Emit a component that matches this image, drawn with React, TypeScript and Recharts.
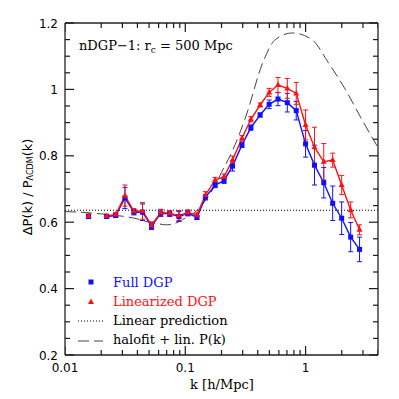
import { ComposedChart, Line, XAxis, YAxis, ErrorBar, ReferenceLine } from "recharts";

// k bins [h/Mpc]; the 0.0187 bin is empty in the simulation output
const K_BINS = [
  0.0157, 0.0187, 0.0222, 0.0264, 0.0315, 0.0374, 0.0441, 0.0524, 0.0625, 0.0742,
  0.0885, 0.105, 0.125, 0.147, 0.177, 0.21, 0.247, 0.296, 0.351, 0.419,
  0.498, 0.59, 0.705, 0.836, 1.0, 1.186, 1.416, 1.68, 1.995, 2.37, 2.81,
];
const FULL_DGP = [
  0.617, null, 0.617, 0.62, 0.673, 0.63, 0.63, 0.588, 0.627, 0.625,
  0.617, 0.627, 0.614, 0.675, 0.712, 0.725, 0.769, 0.833, 0.885, 0.923,
  0.955, 0.971, 0.96, 0.936, 0.836, 0.772, 0.719, 0.657, 0.612, 0.555, 0.518,
];
const FULL_DGP_ERR = [
  0.006, null, 0.005, 0.006, 0.032, 0.008, 0.025, 0.01, 0.01, 0.008,
  0.015, 0.008, 0.006, 0.008, 0.008, 0.008, 0.015, 0.008, 0.008, 0.006,
  0.013, 0.02, 0.028, 0.028, 0.04, 0.06, 0.046, 0.052, 0.049, 0.044, 0.037,
];
const LIN_DGP = [
  0.619, null, 0.619, 0.623, 0.68, 0.633, 0.634, 0.591, 0.629, 0.627,
  0.62, 0.629, 0.622, 0.682, 0.727, 0.737, 0.787, 0.853, 0.91, 0.953,
  0.991, 1.013, 1.003, 0.988, 0.893, 0.826, 0.782, 0.787, 0.712, 0.637, 0.577,
];
const LIN_DGP_ERR = [
  0.006, null, 0.005, 0.006, 0.032, 0.008, 0.025, 0.01, 0.01, 0.008,
  0.015, 0.008, 0.006, 0.01, 0.008, 0.008, 0.012, 0.008, 0.008, 0.006,
  0.012, 0.023, 0.03, 0.033, 0.045, 0.06, 0.055, 0.021, 0.029, 0.024, 0.015,
];

// halofit + linear P(k) prediction
const HALOFIT_K = [
  0.01, 0.015, 0.02, 0.03, 0.04, 0.05, 0.06, 0.07, 0.08, 0.09, 0.1, 0.12,
  0.15, 0.17, 0.2, 0.25, 0.32, 0.44, 0.56, 0.78, 1.13, 1.55, 2.14, 2.93, 4,
];
const HALOFIT = [
  0.632, 0.629, 0.625, 0.618, 0.61, 0.6, 0.595, 0.592, 0.595, 0.603, 0.613, 0.63,
  0.67, 0.7, 0.75, 0.82, 0.92, 1.08, 1.15, 1.17, 1.15, 1.08, 1.0, 0.91, 0.825,
];
const LINEAR_PREDICTION = 0.636;

const X_DOMAIN = [0.01, 4];
const Y_DOMAIN = [0.2, 1.2];
const X_TICKS = [
  0.01, 0.02, 0.03, 0.04, 0.05, 0.06, 0.07, 0.08, 0.09,
  0.1, 0.2, 0.3, 0.4, 0.5, 0.6, 0.7, 0.8, 0.9,
  1, 2, 3, 4,
];
const X_LABELS = [0.01, 0.1, 1];
const Y_TICKS = [
  0.2, 0.25, 0.3, 0.35, 0.4, 0.45, 0.5, 0.55, 0.6, 0.65, 0.7, 0.75,
  0.8, 0.85, 0.9, 0.95, 1, 1.05, 1.1, 1.15, 1.2,
];
const Y_LABELS = [0.2, 0.4, 0.6, 0.8, 1, 1.2];

const BLUE = "#1010ff";
const RED = "#ff1010";
const TICK = "#1a1a1a";
const SERIF = "'DejaVu Serif', serif";
const NUM_FONT = "'DejaVu Sans', sans-serif";

const isIn = (list: number[], v: number) => list.some((t) => Math.abs(t - v) < 1e-9);
const markLen = (labels: number[], v: number) => (isIn(labels, v) ? 9 : 5);

const data = K_BINS.map((k, i) => ({
  k,
  full: FULL_DGP[i],
  fullErr: FULL_DGP_ERR[i],
  lin: LIN_DGP[i],
  linErr: LIN_DGP_ERR[i],
}));
const halofitData = HALOFIT_K.map((k, i) => ({ k, v: HALOFIT[i] }));

// anchor points for the inward tick marks on all four sides of the frame
const bottomMarks = X_TICKS.map((k) => ({ k, y: Y_DOMAIN[0] }));
const topMarks = X_TICKS.map((k) => ({ k, y: Y_DOMAIN[1] }));
const leftMarks = Y_TICKS.map((y) => ({ k: X_DOMAIN[0], y }));
const rightMarks = Y_TICKS.map((y) => ({ k: X_DOMAIN[1], y }));

// tick marks drawn as thin filled rects through the line dots
const noMark = (p: any) => p.cx == null || p.cy == null || !p.payload;
const BottomMark = (p: any) => {
  if (noMark(p)) return <g key={p.index} />;
  const len = markLen(X_LABELS, p.payload.k);
  return <rect key={p.index} x={p.cx - 0.6} y={p.cy - len} width={1.2} height={len} fill={TICK} />;
};
const TopMark = (p: any) => {
  if (noMark(p)) return <g key={p.index} />;
  const len = markLen(X_LABELS, p.payload.k);
  return <rect key={p.index} x={p.cx - 0.6} y={p.cy} width={1.2} height={len} fill={TICK} />;
};
const LeftMark = (p: any) => {
  if (noMark(p)) return <g key={p.index} />;
  const len = markLen(Y_LABELS, p.payload.y);
  return <rect key={p.index} x={p.cx} y={p.cy - 0.6} width={len} height={1.2} fill={TICK} />;
};
const RightMark = (p: any) => {
  if (noMark(p)) return <g key={p.index} />;
  const len = markLen(Y_LABELS, p.payload.y);
  return <rect key={p.index} x={p.cx - len} y={p.cy - 0.6} width={len} height={1.2} fill={TICK} />;
};

const BottomTick = ({ x, y, payload }: any) =>
  isIn(X_LABELS, payload.value) ? (
    <text x={x} y={y + 17} textAnchor="middle" fontSize={12} fontFamily={NUM_FONT} fill="#000">
      {payload.value}
    </text>
  ) : (
    <g />
  );

const LeftTick = ({ x, y, payload }: any) =>
  isIn(Y_LABELS, payload.value) ? (
    <text x={x - 7} y={y + 4.5} textAnchor="end" fontSize={12} fontFamily={NUM_FONT} fill="#000">
      {payload.value}
    </text>
  ) : (
    <g />
  );

const SquareDot = (p: any) => {
  if (p.cx == null || p.cy == null || p.value == null) return <g key={p.index} />;
  return <rect key={p.index} x={p.cx - 2.5} y={p.cy - 2.5} width={5} height={5} fill={BLUE} />;
};

const TriangleDot = (p: any) => {
  if (p.cx == null || p.cy == null || p.value == null) return <g key={p.index} />;
  const { cx, cy } = p;
  return <polygon key={p.index} points={`${cx},${cy - 3.5} ${cx + 3},${cy + 2} ${cx - 3},${cy + 2}`} fill={RED} />;
};

export default function App() {
  return (
    <div style={{ position: "absolute", left: 0, top: 0, width: 399, height: 399, background: "#fff" }}>
      <ComposedChart
        width={399}
        height={399}
        data={data}
        margin={{ top: 23, right: 21, bottom: 0, left: 0 }}
      >
        <XAxis
          dataKey="k"
          type="number"
          scale="log"
          domain={X_DOMAIN}
          allowDataOverflow
          ticks={X_TICKS}
          interval={0}
          height={44}
          tickSize={0}
          tickMargin={0}
          tickLine={false}
          axisLine={{ stroke: "#222", strokeWidth: 1.3 }}
          tick={<BottomTick />}
        />
        <YAxis
          type="number"
          domain={Y_DOMAIN}
          ticks={Y_TICKS}
          interval={0}
          width={65}
          tickSize={0}
          tickMargin={0}
          tickLine={false}
          axisLine={{ stroke: "#222", strokeWidth: 1.3 }}
          tick={<LeftTick />}
        />
        <ReferenceLine y={Y_DOMAIN[1]} stroke="#222" strokeWidth={1.3} />
        <ReferenceLine x={X_DOMAIN[1]} stroke="#222" strokeWidth={1.3} />
        <Line data={bottomMarks} dataKey="y" stroke="none" dot={BottomMark} activeDot={false} isAnimationActive={false} />
        <Line data={topMarks} dataKey="y" stroke="none" dot={TopMark} activeDot={false} isAnimationActive={false} />
        <Line data={leftMarks} dataKey="y" stroke="none" dot={LeftMark} activeDot={false} isAnimationActive={false} />
        <Line data={rightMarks} dataKey="y" stroke="none" dot={RightMark} activeDot={false} isAnimationActive={false} />
        <ReferenceLine y={LINEAR_PREDICTION} stroke="#000" strokeDasharray="1 2" strokeWidth={1} />
        <Line
          data={halofitData}
          dataKey="v"
          type="monotone"
          stroke="#444"
          strokeWidth={1}
          strokeDasharray="11 5"
          dot={false}
          activeDot={false}
          isAnimationActive={false}
        />
        <Line
          dataKey="full"
          type="linear"
          stroke={BLUE}
          strokeWidth={1.4}
          dot={SquareDot}
          activeDot={false}
          isAnimationActive={false}
        >
          <ErrorBar dataKey="fullErr" direction="y" width={2.5} stroke={BLUE} strokeWidth={1} />
        </Line>
        <Line
          dataKey="lin"
          type="linear"
          stroke={RED}
          strokeWidth={1.4}
          dot={TriangleDot}
          activeDot={false}
          isAnimationActive={false}
        >
          <ErrorBar dataKey="linErr" direction="y" width={2.5} stroke={RED} strokeWidth={1} />
        </Line>
      </ComposedChart>

      <svg
        width={399}
        height={399}
        style={{ position: "absolute", left: 0, top: 0, pointerEvents: "none" }}
      >
        <text x={79} y={50} fontSize={13} fontFamily={SERIF} fill="#000">
          nDGP−1:  r<tspan fontSize={9} dy={3}>c</tspan>
          <tspan dy={-3}> = 500 Mpc</tspan>
        </text>
        <text x={222} y={389} textAnchor="middle" fontSize={13} fontFamily={SERIF} fill="#000">
          k [h/Mpc]
        </text>
        <text
          x={27}
          y={187}
          transform="rotate(-90 27 187)"
          textAnchor="middle"
          dominantBaseline="central"
          fontSize={13}
          fontFamily={NUM_FONT}
          fill="#000"
        >
          ΔP(k) / P
          <tspan fontSize={8} dy={3}>ΛCDM</tspan>
          <tspan dy={-3}>(k)</tspan>
        </text>
        <g fontSize={13} fontFamily={SERIF}>
          <rect x={88.5} y={279.5} width={5} height={5} fill={BLUE} />
          <text x={113} y={287} fill={BLUE}>Full DGP</text>
          <polygon points="91,298.5 94,304 88,304" fill={RED} />
          <text x={113} y={306} fill={RED}>Linearized DGP</text>
          <line x1={78} y1={321} x2={103} y2={321} stroke="#000" strokeDasharray="1 2" />
          <text x={113} y={325} fill="#000">Linear prediction</text>
          <line x1={78} y1={341} x2={103} y2={341} stroke="#444" strokeDasharray="11 5" />
          <text x={113} y={344} fill="#000">halofit + lin. P(k)</text>
        </g>
      </svg>
    </div>
  );
}
